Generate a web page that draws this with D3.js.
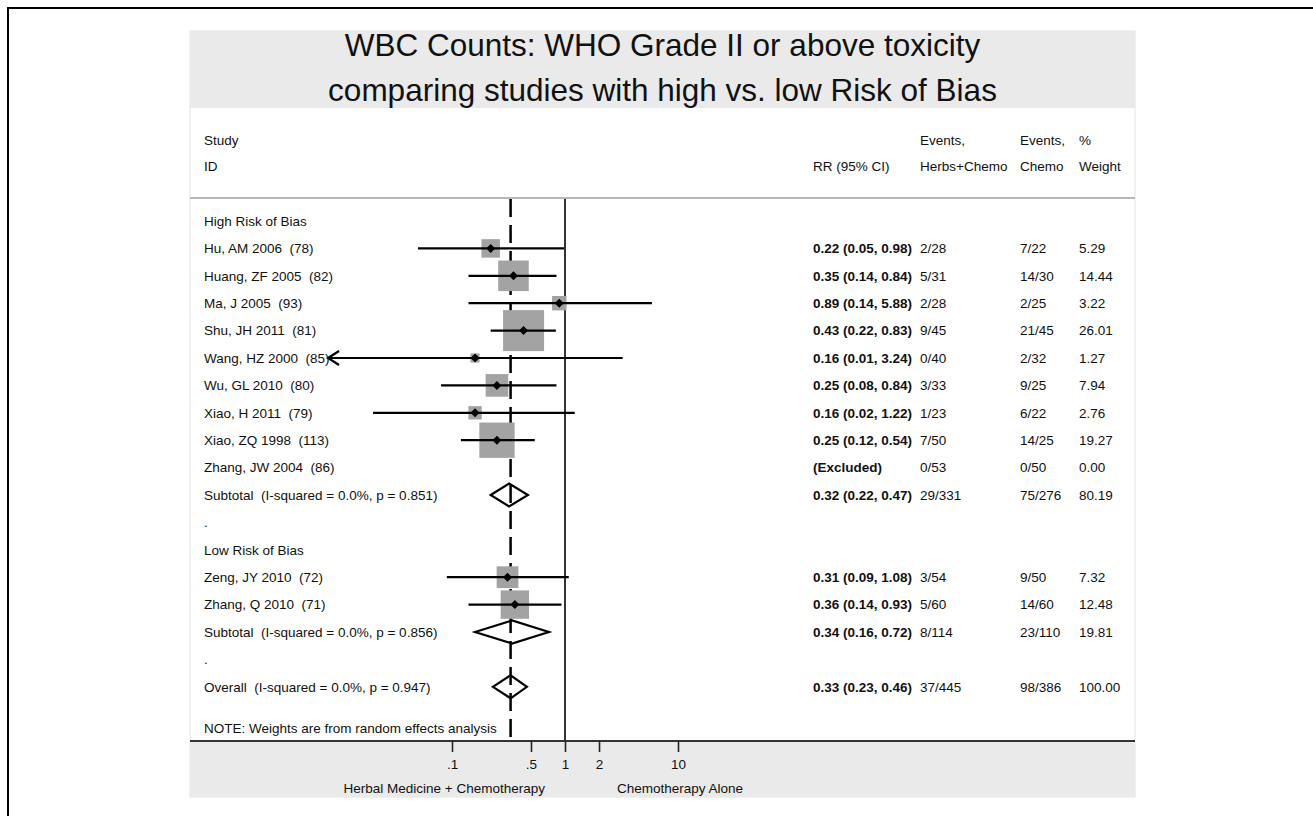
<!DOCTYPE html>
<html>
<head>
<meta charset="utf-8">
<script src="https://cdn.jsdelivr.net/npm/d3@7"></script>
<style>
  html, body { margin: 0; padding: 0; background: #fff; }
  svg { display: block; font-family: "Liberation Sans", Arial, Helvetica, sans-serif; }
  text { white-space: pre; }
</style>
</head>
<body>
<div id="chart"></div>
<script>
// rows of the forest plot, top to bottom
const rowLabels = [
  "High Risk of Bias",
  "Hu, AM 2006  (78)",
  "Huang, ZF 2005  (82)",
  "Ma, J 2005  (93)",
  "Shu, JH 2011  (81)",
  "Wang, HZ 2000  (85)",
  "Wu, GL 2010  (80)",
  "Xiao, H 2011  (79)",
  "Xiao, ZQ 1998  (113)",
  "Zhang, JW 2004  (86)",
  "Subtotal  (I-squared = 0.0%, p = 0.851)",
  ".",
  "Low Risk of Bias",
  "Zeng, JY 2010  (72)",
  "Zhang, Q 2010  (71)",
  "Subtotal  (I-squared = 0.0%, p = 0.856)",
  ".",
  "Overall  (I-squared = 0.0%, p = 0.947)"
];
const rowKind = ["head","study","study","study","study","study","study","study","study","excluded",
  "pooled","blank","head","study","study","pooled","blank","pooled"];

const rrPoint = [null, 0.22, 0.35, 0.89, 0.43, 0.16, 0.25, 0.16, 0.25, null, 0.32, null, null, 0.31, 0.36, 0.34, null, 0.33];
const ciLower = [null, 0.05, 0.14, 0.14, 0.22, 0.008, 0.08, 0.02, 0.12, null, 0.22, null, null, 0.09, 0.14, 0.16, null, 0.23];
const ciUpper = [null, 0.98, 0.84, 5.88, 0.83, 3.24, 0.84, 1.22, 0.54, null, 0.47, null, null, 1.08, 0.93, 0.72, null, 0.46];

const rrText = ["", "0.22 (0.05, 0.98)", "0.35 (0.14, 0.84)", "0.89 (0.14, 5.88)", "0.43 (0.22, 0.83)",
  "0.16 (0.01, 3.24)", "0.25 (0.08, 0.84)", "0.16 (0.02, 1.22)", "0.25 (0.12, 0.54)", "(Excluded)",
  "0.32 (0.22, 0.47)", "", "", "0.31 (0.09, 1.08)", "0.36 (0.14, 0.93)", "0.34 (0.16, 0.72)", "", "0.33 (0.23, 0.46)"];
const eventsHerbs = ["", "2/28", "5/31", "2/28", "9/45", "0/40", "3/33", "1/23", "7/50", "0/53", "29/331",
  "", "", "3/54", "5/60", "8/114", "", "37/445"];
const eventsChemo = ["", "7/22", "14/30", "2/25", "21/45", "2/32", "9/25", "6/22", "14/25", "0/50", "75/276",
  "", "", "9/50", "14/60", "23/110", "", "98/386"];
const weightPct = ["", "5.29", "14.44", "3.22", "26.01", "1.27", "7.94", "2.76", "19.27", "0.00", "80.19",
  "", "", "7.32", "12.48", "19.81", "", "100.00"];

const overallRR = 0.33;
const xTicks = [0.1, 0.5, 1, 2, 10];
const xTickLabels = [".1", ".5", "1", "2", "10"];
const xLimitLo = 0.008;

const titleLines = ["WBC Counts: WHO Grade II or above toxicity", "comparing studies with high vs. low Risk of Bias"];
const noteText = "NOTE: Weights are from random effects analysis";

const W = 1313, H = 816;
const panel = { left: 190, right: 1135, top: 31, bottom: 797 };
const titleBottom = 108, sepY = 198, axisY = 741;
const fs = 13.5;

const svg = d3.select("#chart").append("svg")
  .attr("width", W).attr("height", H);

// outer frame (top + left edges visible)
svg.append("line").attr("x1", 7).attr("x2", W).attr("y1", 8).attr("y2", 8)
  .attr("stroke", "#000").attr("stroke-width", 2);
svg.append("line").attr("x1", 8).attr("x2", 8).attr("y1", 7).attr("y2", H)
  .attr("stroke", "#000").attr("stroke-width", 2);

// panel backgrounds
svg.append("rect")
  .attr("x", panel.left).attr("y", panel.top)
  .attr("width", panel.right - panel.left).attr("height", panel.bottom - panel.top)
  .attr("fill", "#fff").attr("stroke", "#e2e2e2");
svg.append("rect")
  .attr("x", panel.left).attr("y", panel.top)
  .attr("width", panel.right - panel.left).attr("height", titleBottom - panel.top)
  .attr("fill", "#eaeaea");
svg.append("rect")
  .attr("x", panel.left).attr("y", axisY)
  .attr("width", panel.right - panel.left).attr("height", panel.bottom - axisY)
  .attr("fill", "#eaeaea");

// title
svg.selectAll("text.title")
  .data(titleLines)
  .join("text")
    .attr("class", "title")
    .attr("x", (panel.left + panel.right) / 2)
    .attr("y", (d, i) => 56 + i * 45)
    .attr("text-anchor", "middle")
    .attr("font-size", 31.5)
    .attr("fill", "#111")
    .text(d => d);

// header
const hdr = svg.append("g").attr("font-size", fs).attr("fill", "#111");
const colX = { label: 204, rr: 813, herbs: 920, chemo: 1020, wt: 1079 };
const hdrY = [140, 166];
[["Study", colX.label, 0], ["ID", colX.label, 1],
 ["RR (95% CI)", colX.rr, 1],
 ["Events,", colX.herbs, 0], ["Herbs+Chemo", colX.herbs, 1],
 ["Events,", colX.chemo, 0], ["Chemo", colX.chemo, 1],
 ["%", colX.wt, 0], ["Weight", colX.wt, 1]].forEach(([t, x, r]) => {
  hdr.append("text").attr("x", x).attr("y", hdrY[r]).attr("dy", "0.35em").text(t);
});

svg.append("line")
  .attr("x1", panel.left).attr("x2", panel.right)
  .attr("y1", sepY).attr("y2", sepY)
  .attr("stroke", "#a0a0a0").attr("stroke-width", 1.5);

// scales
const x = d3.scaleLog().domain([0.1, 10]).range([452, 678]);
const y = d3.scaleLinear().domain([0, rowLabels.length - 1]).range([221, 221 + 27.4 * (rowLabels.length - 1)]);
const boxSide = d3.scaleSqrt().domain([0, 26.01]).range([0, 41]);

const rows = rowLabels.map((label, i) => ({
  i, label, kind: rowKind[i], rr: rrPoint[i], lo: ciLower[i], hi: ciUpper[i],
  rrText: rrText[i], herbs: eventsHerbs[i], chemo: eventsChemo[i], wt: weightPct[i]
}));

// reference lines
svg.append("line")
  .attr("x1", x(overallRR)).attr("x2", x(overallRR))
  .attr("y1", sepY + 1).attr("y2", axisY)
  .attr("stroke", "#000").attr("stroke-width", 2.5)
  .attr("stroke-dasharray", "18,8");
svg.append("line")
  .attr("x1", x(1)).attr("x2", x(1))
  .attr("y1", sepY + 1).attr("y2", axisY)
  .attr("stroke", "#000").attr("stroke-width", 1.6);

// weight boxes
const studies = rows.filter(d => d.kind === "study");
svg.selectAll("rect.box")
  .data(studies)
  .join("rect")
    .attr("class", "box")
    .attr("x", d => x(d.rr) - boxSide(+d.wt) / 2)
    .attr("y", d => y(d.i) - boxSide(+d.wt) / 2)
    .attr("width", d => boxSide(+d.wt))
    .attr("height", d => boxSide(+d.wt))
    .attr("fill", "#a3a3a3");

// confidence intervals
svg.selectAll("line.ci")
  .data(studies)
  .join("line")
    .attr("class", "ci")
    .attr("x1", d => x(Math.max(d.lo, xLimitLo)))
    .attr("x2", d => x(d.hi))
    .attr("y1", d => y(d.i)).attr("y2", d => y(d.i))
    .attr("stroke", "#000").attr("stroke-width", 2.2);

// arrows for truncated intervals
svg.selectAll("path.arrow")
  .data(studies.filter(d => d.lo <= xLimitLo))
  .join("path")
    .attr("class", "arrow")
    .attr("d", d => {
      const tx = x(xLimitLo), ty = y(d.i);
      return `M${tx + 11},${ty - 7}L${tx},${ty}L${tx + 11},${ty + 7}`;
    })
    .attr("fill", "none").attr("stroke", "#000").attr("stroke-width", 2.2);

// point estimates
svg.selectAll("path.pt")
  .data(studies)
  .join("path")
    .attr("class", "pt")
    .attr("d", d => {
      const cx = x(d.rr), cy = y(d.i), r = 4.5;
      return `M${cx - r},${cy}L${cx},${cy - r}L${cx + r},${cy}L${cx},${cy + r}Z`;
    })
    .attr("fill", "#000");

// pooled diamonds
svg.selectAll("path.pooled")
  .data(rows.filter(d => d.kind === "pooled"))
  .join("path")
    .attr("class", "pooled")
    .attr("d", d => {
      const cy = y(d.i), h = 11.5;
      return `M${x(d.lo)},${cy}L${x(d.rr)},${cy - h}L${x(d.hi)},${cy}L${x(d.rr)},${cy + h}Z`;
    })
    .attr("fill", "none").attr("stroke", "#000").attr("stroke-width", 2.2)
    .attr("stroke-linejoin", "miter");

// text columns
const txt = svg.append("g").attr("font-size", fs).attr("fill", "#111");
txt.selectAll("text.lab")
  .data(rows)
  .join("text")
    .attr("class", "lab")
    .attr("x", colX.label).attr("y", d => y(d.i)).attr("dy", "0.35em")
    .text(d => d.label);
txt.selectAll("text.rr")
  .data(rows.filter(d => d.rrText))
  .join("text")
    .attr("class", "rr")
    .attr("x", colX.rr).attr("y", d => y(d.i)).attr("dy", "0.35em")
    .attr("font-weight", "bold")
    .text(d => d.rrText);
txt.selectAll("text.herbs")
  .data(rows.filter(d => d.herbs))
  .join("text")
    .attr("class", "herbs")
    .attr("x", colX.herbs).attr("y", d => y(d.i)).attr("dy", "0.35em")
    .text(d => d.herbs);
txt.selectAll("text.chemo")
  .data(rows.filter(d => d.chemo))
  .join("text")
    .attr("class", "chemo")
    .attr("x", colX.chemo).attr("y", d => y(d.i)).attr("dy", "0.35em")
    .text(d => d.chemo);
txt.selectAll("text.wt")
  .data(rows.filter(d => d.wt))
  .join("text")
    .attr("class", "wt")
    .attr("x", colX.wt).attr("y", d => y(d.i)).attr("dy", "0.35em")
    .text(d => d.wt);

// note sits 1.5 rows below the overall line
txt.append("text")
  .attr("x", colX.label).attr("y", y(rowLabels.length - 1 + 1.5)).attr("dy", "0.35em")
  .text(noteText);

// x-axis
svg.append("line")
  .attr("x1", panel.left).attr("x2", panel.right)
  .attr("y1", axisY).attr("y2", axisY)
  .attr("stroke", "#333").attr("stroke-width", 2);

svg.append("g")
  .attr("transform", `translate(0,${axisY})`)
  .call(d3.axisBottom(x)
    .tickValues(xTicks)
    .tickFormat((d, i) => xTickLabels[i])
    .tickSize(11)
    .tickPadding(7))
  .call(g => g.select(".domain").remove())
  .call(g => g.selectAll(".tick line").attr("stroke", "#222").attr("stroke-width", 1.6))
  .call(g => g.selectAll(".tick text")
    .attr("font-size", fs).attr("fill", "#111")
    .attr("font-family", "Liberation Sans, Arial, sans-serif"));

svg.append("text")
  .attr("x", x(1) - 20).attr("y", 788).attr("dy", "0.35em")
  .attr("text-anchor", "end").attr("font-size", fs).attr("fill", "#111")
  .text("Herbal Medicine + Chemotherapy");
svg.append("text")
  .attr("x", x(1) + 52).attr("y", 788).attr("dy", "0.35em")
  .attr("font-size", fs).attr("fill", "#111")
  .text("Chemotherapy Alone");
</script>
</body>
</html>
